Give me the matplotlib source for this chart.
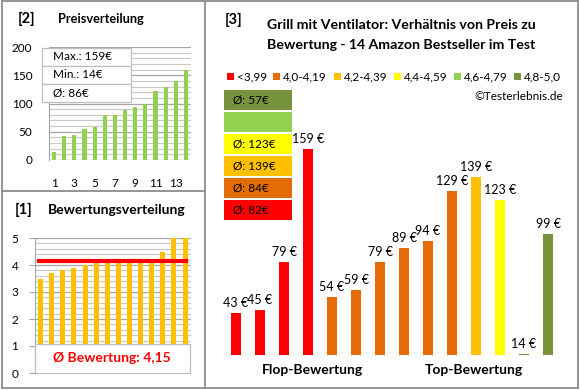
import matplotlib
matplotlib.use("Agg")
import matplotlib.pyplot as plt
from matplotlib.patches import Rectangle
from matplotlib.lines import Line2D
import numpy as np

plt.rcParams['font.family'] = ['Lato', 'DejaVu Sans']

# ---------------- data ----------------
products = list(range(1, 15))
prices = [43, 45, 79, 159, 54, 59, 79, 89, 94, 129, 139, 123, 14, 99]
ratings = [3.5, 3.7, 3.8, 3.9, 4.0, 4.1, 4.1, 4.1, 4.1, 4.1, 4.2, 4.5, 5.0, 5.0]
sorted_prices = sorted(prices)
sorted_ratings = sorted(ratings)
class_labels = ["<3,99", "4,0-4,19", "4,2-4,39", "4,4-4,59", "4,6-4,79", "4,8-5,0"]
class_bounds = [(0, 3.995), (3.995, 4.195), (4.195, 4.395), (4.395, 4.595), (4.595, 4.795), (4.795, 5.01)]
class_colors = ["#FF0000", "#E36C09", "#FFC000", "#FFFF00", "#92D050", "#77933C"]
price_ticks = [0, 50, 100, 150, 200]
rating_ticks = [0, 1, 2, 3, 4, 5]
x_ticks = [1, 3, 5, 7, 9, 11, 13]

W, H = 580, 390
fig = plt.figure(figsize=(W / 100, H / 100), dpi=100)


def ax_px(x0, y0, x1, y1):
    return fig.add_axes([x0 / W, 1 - y1 / H, (x1 - x0) / W, (y1 - y0) / H])


def fx(x):
    return x / W


def fy(y):
    return 1 - y / H


def cls(r):
    for i, (lo, hi) in enumerate(class_bounds):
        if lo <= r < hi:
            return i
    return len(class_bounds) - 1


# ---------------- borders ----------------
bc = "#8C8C8C"
for (xa, ya, xb, yb) in [(1.5, 1, 1.5, 388), (1.5, 388, 578, 388), (578, 1, 578, 388),
                         (1.5, 1, 578, 1), (205, 1, 205, 388), (1.5, 191, 205, 191)]:
    fig.add_artist(Line2D([fx(xa), fx(xb)], [fy(ya), fy(yb)], color=bc, lw=1.3))

# ---------------- panel [2] Preisverteilung ----------------
ax2 = ax_px(49, 47, 191, 160)
ax2.bar(products, sorted_prices, width=0.42, color="#92D050", zorder=3)
ax2.set_xlim(0.5, 14.5)
ax2.set_ylim(0, 200)
ax2.set_yticks(price_ticks)
ax2.set_yticks(np.arange(0, 201, 10), minor=True)
ax2.grid(axis='y', which='minor', color="#C8C8C8", lw=0.8, zorder=0)
ax2.grid(axis='y', which='major', color="#A6A6A6", lw=0.9, zorder=0)
ax2.set_xticks(x_ticks)
ax2.tick_params(axis='x', length=0, pad=13, labelsize=8.5)
ax2.tick_params(axis='y', which='both', length=0, pad=12, labelsize=8.5)
for s in ['top', 'right', 'bottom']:
    ax2.spines[s].set_visible(False)
ax2.spines['left'].set_color("#A6A6A6")

fig.text(fx(18), fy(19), "[2]", fontsize=10.5, fontweight='bold', va='center', ha='left')
fig.text(fx(58), fy(19), "Preisverteilung", fontsize=9.2, fontweight='bold', va='center', ha='left')

# info box
bx0, by0, bw, bh = 42, 48, 89, 18
info = [f"Max.: {max(prices)}€", f"Min.: {min(prices)}€", f"Ø: {round(np.mean(prices))}€"]
for i, t in enumerate(info):
    fig.add_artist(Rectangle((fx(bx0), fy(by0 + (i + 1) * bh)), bw / W, bh / H,
                             facecolor='white', edgecolor="#BFBFBF", lw=0.9, zorder=5))
    fig.text(fx(bx0 + 11), fy(by0 + i * bh + bh / 2), t, fontsize=8.5, va='center', ha='left', zorder=6)

# ---------------- panel [1] Bewertungsverteilung ----------------
ax1 = ax_px(35, 238, 190.6, 373)
ax1.bar(products, sorted_ratings, width=0.45, color="#FFC000", zorder=3)
avg_rating = float(np.mean(ratings))
ax1.plot([0.9, 14.1], [avg_rating, avg_rating], color="#FF0000", lw=3, zorder=4)
ax1.set_xlim(0.5, 14.5)
ax1.set_ylim(0, 5)
ax1.set_yticks(rating_ticks)
ax1.set_yticks(np.arange(0, 5.01, 0.2), minor=True)
ax1.grid(axis='y', which='minor', color="#C8C8C8", lw=0.8, zorder=0)
ax1.grid(axis='y', which='major', color="#A6A6A6", lw=0.9, zorder=0)
ax1.set_xticks([])
ax1.tick_params(axis='y', which='major', length=4, pad=8, labelsize=8.5, color="#A6A6A6")
ax1.tick_params(axis='y', which='minor', length=0)
for s in ['top', 'right', 'bottom']:
    ax1.spines[s].set_visible(False)
ax1.spines['left'].set_color("#A6A6A6")

fig.text(fx(15), fy(210), "[1]", fontsize=10.5, fontweight='bold', va='center', ha='left')
fig.text(fx(48), fy(210), "Bewertungsverteilung", fontsize=10, fontweight='bold', va='center', ha='left')

fig.add_artist(Rectangle((fx(35), fy(373)), 155 / W, 29 / H,
                         facecolor='white', edgecolor="#BFBFBF", lw=0.9, zorder=5))
fig.text(fx(112), fy(358.5), "Ø Bewertung: " + f"{avg_rating:.2f}".replace('.', ','),
         fontsize=10, fontweight='bold', color="#FF0000", va='center', ha='center', zorder=6)

# ---------------- panel [3] main chart ----------------
ax3 = ax_px(224, 60, 560, 355)
idx = np.arange(len(prices))
bar_colors = [class_colors[cls(r)] for r in ratings]
ax3.bar(idx, prices, width=0.38, color=bar_colors, bottom=0, zorder=3)
ax3.set_xlim(-0.5, len(prices) - 0.5)
ax3.set_ylim(13.2, 222)
ax3.axis('off')
for i, p in enumerate(prices):
    ax3.annotate(f"{p} €", (i, p), xytext=(0, 3), textcoords='offset points',
                 ha='center', va='bottom', fontsize=9)

fig.text(fx(225), fy(20), "[3]", fontsize=10.5, fontweight='bold', va='center', ha='left')
fig.text(fx(401), fy(25), "Grill mit Ventilator: Verhältnis von Preis zu",
         fontsize=10.2, fontweight='bold', va='center', ha='center')
fig.text(fx(401), fy(45), "Bewertung - 14 Amazon Bestseller im Test",
         fontsize=10.2, fontweight='bold', va='center', ha='center')

handles = [Rectangle((0, 0), 1, 1, facecolor=c, edgecolor='none') for c in class_colors]
fig.legend(handles, class_labels, loc='center', bbox_to_anchor=(fx(394), fy(77)), ncol=6,
           frameon=False, fontsize=8.5, handlelength=0.6, handleheight=0.6,
           handletextpad=0.25, columnspacing=0.55, borderpad=0)

fig.text(fx(563), fy(97), "©Testerlebnis.de", fontsize=8.5, va='center', ha='right')

# average price boxes per class (top: best class)
for k, ci in enumerate(reversed(range(len(class_colors)))):
    top = 90 + k * 22
    fig.add_artist(Rectangle((fx(224), fy(top + 20)), 68 / W, 20 / H,
                             facecolor=class_colors[ci], edgecolor='none', zorder=5))
    members = [p for p, r in zip(prices, ratings) if cls(r) == ci]
    if members:
        fig.text(fx(233), fy(top + 10), f"Ø: {round(np.mean(members) + 1e-9)}€", fontsize=8.5,
                 va='center', ha='left', zorder=6)

fig.text(fx(312), fy(370), "Flop-Bewertung", fontsize=10, fontweight='bold', va='center', ha='center')
fig.text(fx(474), fy(370), "Top-Bewertung", fontsize=10, fontweight='bold', va='center', ha='center')

fig.savefig("out.png", dpi=100)
